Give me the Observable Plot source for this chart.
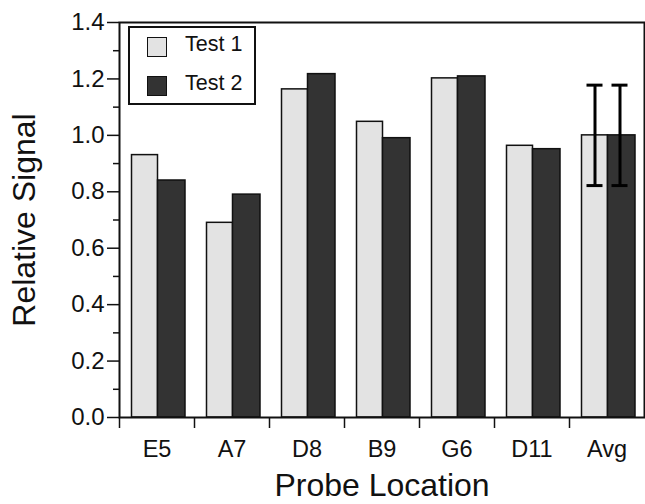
<!DOCTYPE html>
<html>
<head>
<meta charset="utf-8">
<script src="https://cdn.jsdelivr.net/npm/d3@7"></script>
<script src="https://cdn.jsdelivr.net/npm/@observablehq/plot@0.6"></script>
<style>
  html, body { margin: 0; padding: 0; background: #fff; }
  #wrap { position: relative; width: 645px; height: 504px; font-family: "Liberation Sans", Arial, Helvetica, sans-serif; }
  #legend { position: absolute; left: 128px; top: 26px; width: 128px; height: 79px; box-sizing: border-box; border: 2px solid #111; background: #fff; }
  .row { position: absolute; left: 0; height: 20px; width: 120px; }
  .sw { position: absolute; left: 17px; top: 0; width: 20px; height: 20px; box-sizing: border-box; border: 1.5px solid #111; }
  .lab { position: absolute; left: 55px; top: -3px; line-height: 20px; font-size: 21.5px; color: #111; white-space: nowrap; }
</style>
</head>
<body>
<div id="wrap"></div>
<script>
const categories = ["E5", "A7", "D8", "B9", "G6", "D11", "Avg"];
const test1 = [0.93, 0.69, 1.163, 1.048, 1.202, 0.963, 1.0];
const test2 = [0.84, 0.79, 1.217, 0.99, 1.209, 0.951, 1.0];
const seriesNames = ["Test 1", "Test 2"];
const seriesColors = ["#e3e3e3", "#333333"];
const errCategory = "Avg";
const errMean = [1.0, 1.0];
const errHalf = [0.178, 0.178];
const yTicks = [0, 0.2, 0.4, 0.6, 0.8, 1.0, 1.2, 1.4];
const yMinorTicks = [0.1, 0.3, 0.5, 0.7, 0.9, 1.1, 1.3];
const xTitle = "Probe Location";
const yTitle = "Relative Signal";

const rows1 = categories.map((c, i) => ({cat: c, value: test1[i]}));
const rows2 = categories.map((c, i) => ({cat: c, value: test2[i]}));
const errRows = seriesNames.map((s, i) => ({cat: errCategory, lo: errMean[i] - errHalf[i], hi: errMean[i] + errHalf[i], s}));

const ink = "#111";
const chart = Plot.plot({
  width: 645,
  height: 504,
  marginLeft: 119,
  marginRight: 1,
  marginTop: 22,
  marginBottom: 87,
  style: {fontFamily: '"Liberation Sans", Arial, Helvetica, sans-serif', color: ink, background: "#fff", overflow: "visible"},
  x: {type: "band", domain: categories, padding: 0, label: null},
  y: {domain: [0, 1.4], label: null},
  marks: [
    Plot.barY(rows1, {x: "cat", y: "value", fill: seriesColors[0], stroke: ink, strokeWidth: 1.5, insetLeft: 12.5, insetRight: 36.5}),
    Plot.barY(rows2, {x: "cat", y: "value", fill: seriesColors[1], stroke: ink, strokeWidth: 1.5, insetLeft: 38.5, insetRight: 9}),
    Plot.ruleX([errRows[0]], {x: "cat", y1: "lo", y2: "hi", stroke: "#000", strokeWidth: 3, dx: -12}),
    Plot.ruleX([errRows[1]], {x: "cat", y1: "lo", y2: "hi", stroke: "#000", strokeWidth: 3, dx: 13}),
    Plot.tickY([errRows[0]], {x: "cat", y: "lo", stroke: "#000", strokeWidth: 3, insetLeft: 17.5, insetRight: 41.5}),
    Plot.tickY([errRows[0]], {x: "cat", y: "hi", stroke: "#000", strokeWidth: 3, insetLeft: 17.5, insetRight: 41.5}),
    Plot.tickY([errRows[1]], {x: "cat", y: "lo", stroke: "#000", strokeWidth: 3, insetLeft: 42.5, insetRight: 16.5}),
    Plot.tickY([errRows[1]], {x: "cat", y: "hi", stroke: "#000", strokeWidth: 3, insetLeft: 42.5, insetRight: 16.5}),
    Plot.frame({stroke: ink, strokeWidth: 2}),
    Plot.axisY({ticks: yTicks, tickSize: 12, tickPadding: 3, tickFormat: d3.format(".1f"), fontSize: 24, strokeWidth: 1.5, label: null}),
    Plot.axisY({ticks: yMinorTicks, tickSize: 6, tickFormat: () => "", strokeWidth: 1.5, label: null}),
    Plot.axisX({ticks: categories, tickSize: 11, tickFormat: () => "", dx: -37.5, strokeWidth: 1.5, label: null}),
    Plot.axisX({ticks: categories, tickSize: 0, tickPadding: 23, fontSize: 23.5, label: null}),
    Plot.text([xTitle], {text: d => d, frameAnchor: "bottom", textAnchor: "middle", lineAnchor: "middle", dy: 68, fontSize: 32, fill: ink}),
    Plot.text([yTitle], {text: d => d, frameAnchor: "left", textAnchor: "middle", rotate: -90, lineAnchor: "top", dx: -107, fontSize: 32, fill: ink})
  ]
});
const wrap = document.getElementById("wrap");
wrap.appendChild(chart);

const legend = document.createElement("div");
legend.id = "legend";
seriesNames.forEach((name, i) => {
  const row = document.createElement("div");
  row.className = "row";
  row.style.top = (8.7 + i * 39.3) + "px";
  const sw = document.createElement("div");
  sw.className = "sw";
  sw.style.background = seriesColors[i];
  const lab = document.createElement("div");
  lab.className = "lab";
  lab.textContent = name;
  row.appendChild(sw);
  row.appendChild(lab);
  legend.appendChild(row);
});
wrap.appendChild(legend);
</script>
</body>
</html>
